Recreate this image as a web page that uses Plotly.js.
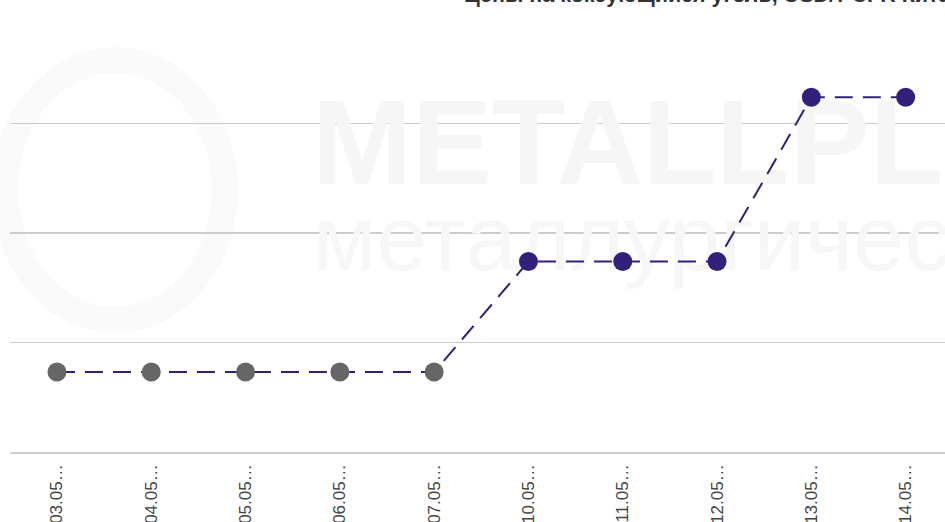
<!DOCTYPE html>
<html>
<head>
<meta charset="utf-8">
<script src="https://cdn.plot.ly/plotly-3.0.1.min.js"></script>
<style>
html,body{margin:0;padding:0;background:#fff;}
#chart{width:945px;height:522px;}
</style>
</head>
<body>
<div id="chart"></div>
<script>
// ---- data ----
const categories = ["03.05…","04.05…","05.05…","06.05…","07.05…","10.05…","11.05…","12.05…","13.05…","14.05…"];
const prices = [387.3, 387.3, 387.3, 387.3, 387.3, 397.4, 397.4, 397.4, 412.4, 412.4];
const pointColors = ["#666666","#666666","#666666","#666666","#666666","#33207a","#33207a","#33207a","#33207a","#33207a"];
const yTicks = [380, 390, 400, 410, 420];
const titleText = "Цены на коксующийся уголь, USD/т CFR Китай";
const watermarkTop = "METALLPLANT";
const watermarkBottom = "металлургический";

const xIdx = categories.map((_, i) => i);

// plot geometry helpers (pixel -> data) for decorative watermark placement
const L = 10, W = 935, T = 14, H = 438;
const xr = [-0.498, -0.498 + W / 94.3];
const yr = [380, 420];
const px2x = p => xr[0] + (p - L) / W * (xr[1] - xr[0]);
const py2y = p => yr[0] + (T + H - p) / H * (yr[1] - yr[0]);

const watermark = {
  x: [px2x(312), px2x(313)],
  y: [py2y(154), py2y(247)],
  text: [watermarkTop, watermarkBottom],
  mode: "text",
  textposition: "middle right",
  textfont: {
    family: ["Liberation Sans, Arial, sans-serif", "Liberation Sans, Arial, sans-serif"],
    size: [120, 92],
    weight: [700, 400],
    color: ["#f6f6f6", "#f7f7f7"]
  },
  hoverinfo: "skip",
  showlegend: false,
  cliponaxis: false
};

const series = {
  x: xIdx,
  y: prices,
  mode: "lines+markers",
  line: {color: "#33207a", width: 2, dash: "18px,10px"},
  marker: {color: pointColors, size: 19},
  hoverinfo: "x+y",
  showlegend: false,
  cliponaxis: false
};

const layout = {
  width: 945, height: 522,
  margin: {l: L, r: 0, t: T, b: 522 - T - H, pad: 0},
  paper_bgcolor: "#ffffff",
  plot_bgcolor: "rgba(0,0,0,0)",
  showlegend: false,
  xaxis: {
    range: xr,
    tickmode: "array",
    tickvals: xIdx,
    ticktext: categories,
    tickangle: -90,
    ticks: "",
    ticklabelstandoff: 4,
    showgrid: false,
    zeroline: false,
    showline: true,
    linecolor: "#cccccc",
    linewidth: 1.5,
    tickfont: {family: "Liberation Sans, Arial, sans-serif", size: 17, color: "#444444"},
    fixedrange: true
  },
  yaxis: {
    range: yr,
    tickmode: "array",
    tickvals: yTicks,
    showticklabels: false,
    ticks: "",
    showgrid: true,
    gridcolor: "#cccccc",
    gridwidth: 1.5,
    zeroline: false,
    showline: false,
    fixedrange: true
  },
  shapes: [
    {type: "circle", xref: "paper", yref: "paper", layer: "below",
     x0: (5 - L) / W, x1: (225 - L) / W, y0: (T + H - 320) / H, y1: (T + H - 60) / H,
     line: {color: "#fafafa", width: 26}, fillcolor: "rgba(0,0,0,0)"}
  ],
  annotations: [
    {text: titleText, xref: "paper", yref: "paper", x: (462 - L) / W, y: 1 + (T - 9) / H,
     xanchor: "left", yanchor: "bottom", showarrow: false,
     font: {family: "Liberation Sans, Arial, sans-serif", size: 21.5, weight: 700, color: "#333333"}}
  ]
};

Plotly.newPlot("chart", [watermark, series], layout, {displayModeBar: false, staticPlot: true});
</script>
</body>
</html>
